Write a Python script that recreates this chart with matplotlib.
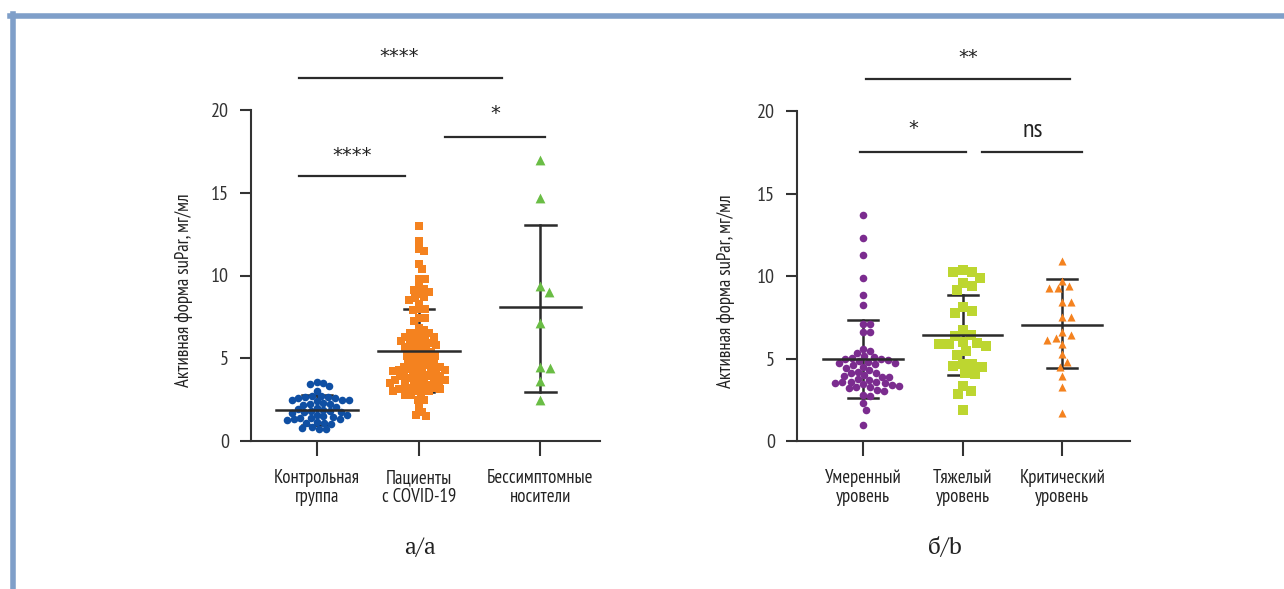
import numpy as np
import matplotlib
matplotlib.use("Agg")
import matplotlib.pyplot as plt
from matplotlib.lines import Line2D

plt.rcParams['font.family'] = ['PT Sans Narrow', 'Roboto Condensed',
                               'Fira Sans Condensed', 'DejaVu Sans']

# ---- panel a data ----
groups_a = ['Контрольная\nгруппа', 'Пациенты\nс COVID-19', 'Бессимптомные\nносители']
pos_a = [0.0, 1.0, 2.19]

control = [3.58, 3.5, 3.42, 3.3, 3.0,
           2.7, 2.65, 2.7, 2.6, 2.65, 2.6,
           2.5, 2.45, 2.5, 2.4,
           2.25, 2.3, 2.2, 2.25,
           2.0, 1.95, 2.05, 1.9,
           1.75, 1.7, 1.8, 1.8, 1.75,
           1.6, 1.55, 1.5, 1.45, 1.4,
           1.3, 1.25, 1.35, 1.4,
           1.1, 1.15, 1.1, 1.05,
           0.75, 0.85, 0.7, 0.8]
covid = [13.0, 12.1, 11.6, 11.5, 10.7, 10.4, 9.8, 9.8, 9.3, 9.2, 9.1, 9.0,
         8.9, 8.7, 8.65, 8.5, 8.3, 7.95, 7.95, 7.9, 7.45, 7.45, 7.25, 6.8,
         6.7, 6.5, 6.5, 6.5, 6.3, 6.3, 6.3, 6.2, 6.05, 6.05, 6.0, 5.9, 5.9,
         5.8, 5.7, 5.7, 5.7, 5.6, 5.5, 5.4, 5.4, 5.3, 5.2, 5.15, 5.15, 5.0,
         4.9, 4.9, 4.8, 4.75, 4.65, 4.65, 4.6, 4.5, 4.5, 4.4, 4.35, 4.35, 4.35,
         4.3, 4.3, 4.25, 4.15, 4.15, 4.1, 4.0, 3.9, 3.9, 3.9, 3.9, 3.8, 3.7,
         3.7, 3.7, 3.7, 3.6, 3.5, 3.5, 3.5, 3.5, 3.4, 3.3, 3.2, 3.2, 3.2,
         3.15, 3.15, 3.15, 3.0, 3.0, 3.0, 2.8, 2.8, 2.8, 2.5, 2.45, 2.05,
         1.75, 1.6, 1.5]
asympt = [17.0, 14.7, 9.35, 9.0, 7.1, 4.4, 4.45, 3.6, 2.5]

mean_a = [1.85, 5.45, 8.1]
sd_hi_a = [2.75, 7.95, 13.05]
sd_lo_a = [0.95, 2.95, 2.95]

# ---- panel b data ----
groups_b = ['Умеренный\nуровень', 'Тяжелый\nуровень', 'Критический\nуровень']
pos_b = [0.0, 1.0, 2.0]

moderate = [13.7, 12.3, 11.3, 9.85, 8.85, 8.25, 7.1, 7.1, 6.6, 6.6, 5.6, 5.45,
            5.35, 5.15, 5.1, 5.05, 5.0, 4.95, 4.9, 4.85, 4.8, 4.75, 4.7, 4.65,
            4.6, 4.5, 4.45, 4.3, 4.2, 4.15, 4.1, 4.0, 3.95, 3.9, 3.85, 3.75,
            3.7, 3.6, 3.6, 3.55, 3.5, 3.5, 3.45, 3.4, 3.35, 3.3, 3.25, 3.2,
            3.1, 3.05, 2.8, 2.75, 2.3, 1.9, 0.95]
severe = [10.36, 10.22, 9.9, 10.22, 9.6, 9.4, 9.13, 8.1, 7.9, 7.76, 6.7,
          6.4, 6.35, 6.0, 5.95, 5.9, 5.75, 5.85, 5.45, 5.2, 4.66, 4.66,
          4.54, 4.5, 4.1, 4.05, 3.35, 3.05, 2.85, 1.9]
critical = [10.9, 9.7, 9.25, 9.25, 9.4, 8.45, 8.45, 7.5, 7.5, 6.6, 6.45,
            6.25, 6.15, 5.9, 5.25, 4.8, 4.5, 3.95, 3.3, 1.7]

mean_b = [4.95, 6.4, 7.05]
sd_hi_b = [7.35, 8.85, 9.8]
sd_lo_b = [2.6, 4.0, 4.4]

dark = '#2b2b2b'


def swarm(ax, x0, vals, dist):
    tr = ax.transData
    pts = tr.transform(np.column_stack([np.full(len(vals), x0), vals]))
    cx = pts[0, 0]
    ys = pts[:, 1]
    offs = np.zeros(len(vals))
    placed = []
    for i in np.argsort(-ys):
        for k in range(600):
            off = ((k + 1) // 2) * 0.5 * (1 if k % 2 else -1)
            ok = True
            for px, py in placed:
                if (off - px) ** 2 + (ys[i] - py) ** 2 < dist ** 2:
                    ok = False
                    break
            if ok:
                break
        placed.append((off, ys[i]))
        offs[i] = off
    back = tr.inverted().transform(np.column_stack([cx + offs, ys]))
    return back[:, 0]


def style_axes(ax, labels, positions, xlim):
    ax.set_xlim(*xlim)
    ax.set_ylim(0, 20)
    ax.set_yticks([0, 5, 10, 15, 20])
    ax.set_xticks(positions)
    ax.set_xticklabels(labels, fontsize=13.5, color='#222222', linespacing=1.1)
    for s in ['top', 'right']:
        ax.spines[s].set_visible(False)
    for s in ['left', 'bottom']:
        ax.spines[s].set_linewidth(1.5)
        ax.spines[s].set_color('#333333')
    ax.tick_params(axis='y', length=8, width=1.5, pad=8, labelsize=14.5,
                   color='#333333', labelcolor='#333333')
    ax.tick_params(axis='x', length=11, width=1.5, pad=9, color='#333333')
    ax.set_ylabel('Активная форма suPar, мг/мл', fontsize=13.5, color='#222222')


def summary(ax, positions, means, lo, hi):
    for x, m, l, h in zip(positions, means, lo, hi):
        ax.plot([x, x], [l, h], color=dark, lw=1.8, zorder=2, clip_on=False)
        ax.plot([x - 0.15, x + 0.15], [h, h], color=dark, lw=1.8, zorder=2)
        ax.plot([x - 0.15, x + 0.15], [l, l], color=dark, lw=1.8, zorder=2)
        ax.plot([x - 0.4, x + 0.4], [m, m], color=dark, lw=1.8, zorder=4)


def bracket(ax, x1, x2, y, text, ty, tx):
    ax.plot([x1, x2], [y, y], color=dark, lw=1.6, clip_on=False)
    if text == 'ns':
        kw = dict(fontsize=19)
    else:
        kw = dict(fontsize=14, family='DejaVu Sans')
    ax.text(tx, ty, text, ha='center', va='baseline', color='#222222',
            clip_on=False, **kw)


fig = plt.figure(figsize=(12.84, 5.89), dpi=100)

# frame
fig.add_artist(Line2D([10 / 1284, 1], [1 - 15.5 / 589] * 2,
                      transform=fig.transFigure, color='#7f9fc9', lw=4))
fig.add_artist(Line2D([12.5 / 1284] * 2, [0, 1 - 13.5 / 589],
                      transform=fig.transFigure, color='#7f9fc9', lw=4))

# ---- panel a ----
ax1 = fig.add_axes([251 / 1284, 148 / 589, 349 / 1284, 331 / 589])
style_axes(ax1, groups_a, pos_a, (-0.647, 2.775))
ax1.yaxis.set_label_coords(-0.165, 0.455)

summary(ax1, pos_a, mean_a, sd_lo_a, sd_hi_a)
ax1.scatter(swarm(ax1, pos_a[0], control, 6.6), control, s=30, marker='o',
            color='#0f4fa3', linewidths=0, zorder=3, clip_on=False)
ax1.scatter(swarm(ax1, pos_a[1], covid, 5.6), covid, s=38, marker='s',
            color='#f4821f', linewidths=0, zorder=3, clip_on=False)
ax1.scatter(swarm(ax1, pos_a[2], asympt, 10), asympt, s=50, marker='^',
            color='#6abd45', linewidths=0, zorder=3, clip_on=False)

bracket(ax1, -0.18, 0.86, 16.0, '****', 16.9, 0.34)
bracket(ax1, 1.255, 2.235, 18.37, '*', 19.45, 1.745)
bracket(ax1, -0.18, 1.81, 21.93, '****', 22.9, 0.81)

# ---- panel b ----
ax2 = fig.add_axes([797 / 1284, 148 / 589, 333 / 1284, 330 / 589])
style_axes(ax2, groups_b, pos_b, (-0.663, 2.68))
ax2.yaxis.set_label_coords(-0.185, 0.455)

summary(ax2, pos_b, mean_b, sd_lo_b, sd_hi_b)
ax2.scatter(swarm(ax2, pos_b[0], moderate, 7.0), moderate, s=30, marker='o',
            color='#7b2c8f', linewidths=0, zorder=3, clip_on=False)
ax2.scatter(swarm(ax2, pos_b[1], severe, 9.5), severe, s=48, marker='s',
            color='#bdd630', linewidths=0, zorder=3, clip_on=False)
ax2.scatter(swarm(ax2, pos_b[2], critical, 8.5), critical, s=34, marker='^',
            color='#f4821f', linewidths=0, zorder=3, clip_on=False)

bracket(ax2, -0.03, 1.035, 17.5, '*', 18.6, 0.5)
bracket(ax2, 1.196, 2.2, 17.5, 'ns', 18.4, 1.70)
bracket(ax2, 0.03, 2.08, 21.94, '**', 22.9, 1.055)

# captions
serif = ['PT Serif', 'Liberation Serif', 'DejaVu Serif']
fig.text(420 / 1284, 1 - 548 / 589, 'а/a', ha='center', va='center',
         fontsize=17, family=serif, color='#222222')
fig.text(945 / 1284, 1 - 548 / 589, 'б/b', ha='center', va='center',
         fontsize=17, family=serif, color='#222222')

fig.savefig('out.png', dpi=100, facecolor='white')
